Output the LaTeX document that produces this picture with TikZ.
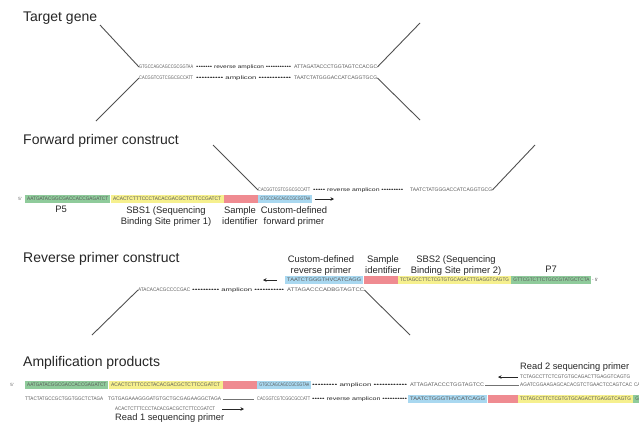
\documentclass[tikz,border=0pt]{standalone}
\usepackage{fontspec}
\setmainfont{Liberation Sans}
\usepackage{graphicx}
\usetikzlibrary{arrows.meta}
\definecolor{grn}{HTML}{8FCB9B}
\definecolor{ylw}{HTML}{F6F08E}
\definecolor{rd}{HTML}{EF8B91}
\definecolor{blu}{HTML}{A9D8F0}
\definecolor{seqc}{HTML}{5A5A5A}
\definecolor{linec}{HTML}{505050}
\newcommand{\sq}[2]{\resizebox{#1pt}{3.6pt}{\fontsize{5}{5}\selectfont #2}}
\begin{document}
\begin{tikzpicture}[x=1pt,y=-1pt,
  seg/.style={anchor=west, inner sep=0pt, minimum height=8pt, text=seqc},
  dots/.style={anchor=west, inner sep=0pt, text=black!85},
  title/.style={anchor=base west, inner sep=0pt, font=\fontsize{14}{16}\selectfont, text=black!85},
  lab/.style={anchor=north, inner sep=0pt, align=center, font=\fontsize{9.4}{11}\selectfont, text=black!85},
  lab2/.style={anchor=base west, inner sep=0pt, font=\fontsize{9.3}{11}\selectfont, text=black!85},
  small/.style={inner sep=0pt, font=\fontsize{4.5}{5}\selectfont, text=seqc},
  tail/.style={draw=linec, line width=0.9pt},
  parr/.style={draw=black!85, line width=0.8pt, -{Stealth[length=3.5pt,width=3.5pt]}},
  thinl/.style={draw=black!55, line width=0.4pt}
]
\useasboundingbox (0,0) rectangle (639,432);
\clip (0,0) rectangle (639,432);

% ---------------- Target gene ----------------
\node[title] (t1) at (23,21) {Target gene};
\node[seg] (g1a) at (139,67) {\sq{54}{GTGCCAGCAGCCGCGGTAA}};
\node[dots] (g1b) at (196,67) {\sq{95}{••••••• reverse amplicon •••••••••••}};
\node[seg] (g1c) at (294,67) {\sq{83}{ATTAGATACCCTGGTAGTCCACGC}};
\node[seg] (g2a) at (139,78) {\sq{54}{CACGGTCGTCGGCGCCATT}};
\node[dots] (g2b) at (196,78) {\sq{95}{•••••••••• amplicon ••••••••••••}};
\node[seg] (g2c) at (294,78) {\sq{83}{TAATCTATGGGACCATCAGGTGCG}};
\coordinate (g1L) at (100,25);
\coordinate (g1R) at (420,23);
\coordinate (g2L) at (96,121);
\coordinate (g2R) at (420,120);
\draw[tail] (g1a.west) -- (g1L);
\draw[tail] (g1c.east) -- (g1R);
\draw[tail] (g2a.west) -- (g2L);
\draw[tail] (g2c.east) -- (g2R);

% ---------------- Forward primer construct ----------------
\node[title] (t2) at (23,144) {Forward primer construct};
\node[seg] (f1a) at (258,190) {\sq{52}{CACGGTCGTCGGCGCCATT}};
\node[dots] (f1b) at (313,190) {\sq{90}{••••• reverse amplicon •••••••••}};
\node[seg] (f1c) at (410,190) {\sq{82}{TAATCTATGGGACCATCAGGTGCG}};
\coordinate (f1L) at (213,145);
\coordinate (f1R) at (535,145);
\draw[tail] (f1a.west) -- (f1L);
\draw[tail] (f1c.east) -- (f1R);
\node[small, anchor=east] (f5p) at (22,199) {5'};
\node[seg, fill=grn, minimum width=85pt] (fP5) at (25,199) {\sq{81}{AATGATACGGCGACCACCGAGATCT}};
\node[seg, fill=ylw, minimum width=113pt] (fS1) at (fP5.east) {\sq{108}{ACACTCTTTCCCTACACGACGCTCTTCCGATCT}};
\node[seg, fill=rd, minimum width=34pt] (fID) at (fS1.east) {};
\node[seg, fill=blu, minimum width=54pt] (fFP) at (fID.east) {\sq{50}{GTGCCAGCAGCCGCGGTAA}};
\coordinate (fA) at (334,199);
\draw[parr] ([xshift=2pt]fFP.east) -- (fA);
\node[lab] (lP5) at (61,206) {P5};
\node[lab] (lS1) at (166,206) {SBS1 (Sequencing\\Binding Site primer 1)};
\node[lab] (lID) at (240,206) {Sample\\identifier};
\node[lab] (lFP) at (294,206) {Custom-defined\\forward primer};

% ---------------- Reverse primer construct ----------------
\node[title] (t3) at (23,262) {Reverse primer construct};
\node[lab] (lRP) at (321,255) {Custom-defined\\reverse primer};
\node[lab] (lID2) at (383,255) {Sample\\identifier};
\node[lab] (lS2) at (456,255) {SBS2 (Sequencing\\Binding Site primer 2)};
\node[lab] (lP7) at (551,266) {P7};
\node[seg, fill=blu, minimum width=78pt] (rFP) at (285,280) {\sq{74}{TAATCTGGGTHVCATCAGG}};
\node[seg, fill=rd, minimum width=34pt] (rID) at (rFP.east) {};
\node[seg, fill=ylw, minimum width=113pt] (rS2) at (rID.east) {\sq{109}{TCTAGCCTTCTCGTGTGCAGACTTGAGGTCAGTG}};
\node[seg, fill=grn, minimum width=80pt] (rP7) at (rS2.east) {\sq{76}{GTTCGTCTTCTGCCGTATGCTCTA}};
\node[small, anchor=west] (r5p) at (592,280) {- 5'};
\coordinate (rA) at (263,280);
\draw[parr] ([xshift=-8pt]rFP.west) -- (rA);
\node[seg] (r1a) at (138,290) {\sq{52}{ATACACACGCCCCGAC}};
\node[dots] (r1b) at (192,290) {\sq{92}{•••••••••• amplicon •••••••••••}};
\node[seg] (r1c) at (287,290) {\sq{77}{ATTAGACCCADBGTAGTCC}};
\coordinate (r1L) at (92,335);
\coordinate (r1R) at (410,335);
\draw[tail] (r1a.west) -- (r1L);
\draw[tail] (r1c.east) -- (r1R);

% ---------------- Amplification products ----------------
\node[title] (t4) at (23,366) {Amplification products};
\node[lab2] (lR2) at (520,369) {Read 2 sequencing primer};
\node[seg] (a2p) at (520,377) {\sq{110}{TCTAGCCTTCTCGTGTGCAGACTTGAGGTCAGTG}};
\coordinate (a2A) at (498,377);
\draw[parr] ([xshift=-2pt]a2p.west) -- (a2A);

\node[small, anchor=east] (a5p) at (14,385) {5'};
\node[seg, fill=grn, minimum width=83pt] (aP5) at (25,385) {\sq{79}{AATGATACGGCGACCACCGAGATCT}};
\node[seg, fill=ylw, minimum width=114pt] (aS1) at (aP5.east) {\sq{109}{ACACTCTTTCCCTACACGACGCTCTTCCGATCT}};
\node[seg, fill=rd, minimum width=34pt] (aID) at (aS1.east) {};
\node[seg, fill=blu, minimum width=54pt] (aFP) at (aID.east) {\sq{50}{GTGCCAGCAGCCGCGGTAA}};
\node[dots] (aAm) at (312,385) {\sq{95}{••••••••• amplicon ••••••••••••}};
\node[seg] (aRc) at (410,385) {\sq{74}{ATTAGATACCCTGGTAGTCC}};
\node[seg] (aS2c) at (520,385) {\sq{112}{AGATCGGAAGAGCACACGTCTGAACTCCAGTCAC}};
\node[seg] (aP7c) at (634,385) {\sq{75}{CAAGCAGAAGACGGCATACGAGAT}};
\draw[thinl] ([xshift=1pt]aRc.east) -- ([xshift=-1pt]aS2c.west);

\node[seg] (bP5) at (25,399) {\sq{78}{TTACTATGCCGCTGGTGGCTCTAGA}};
\node[seg] (bS1) at (108,399) {\sq{113}{TGTGAGAAAGGGATGTGCTGCGAGAAGGCTAGA}};
\node[seg] (bFP) at (257,399) {\sq{53}{CACGGTCGTCGGCGCCATT}};
\draw[thinl] ([xshift=2pt]bS1.east) -- ([xshift=-3pt]bFP.west);
\node[dots] (bAm) at (312,399) {\sq{95}{••••• reverse amplicon ••••••••••}};
\node[seg, fill=blu, minimum width=79pt] (bRP) at (408,399) {\sq{75}{TAATCTGGGTHVCATCAGG}};
\node[seg, fill=rd, minimum width=30pt] (bID) at (bRP.east) {};
\node[seg, fill=ylw, minimum width=115pt] (bS2) at (bID.east) {\sq{111}{TCTAGCCTTCTCGTGTGCAGACTTGAGGTCAGTG}};
\node[seg, fill=grn, minimum width=80pt] (bP7) at (bS2.east) {\sq{76}{GTTCGTCTTCTGCCGTATGCTCTA}};

\node[seg] (r1p) at (115,409) {\sq{100}{ACACTCTTTCCCTACACGACGCTCTTCCGATCT}};
\coordinate (r1A) at (244,409);
\draw[parr] ([xshift=7pt]r1p.east) -- (r1A);
\node[lab2] (lR1) at (115,420) {Read 1 sequencing primer};
\end{tikzpicture}
\end{document}
